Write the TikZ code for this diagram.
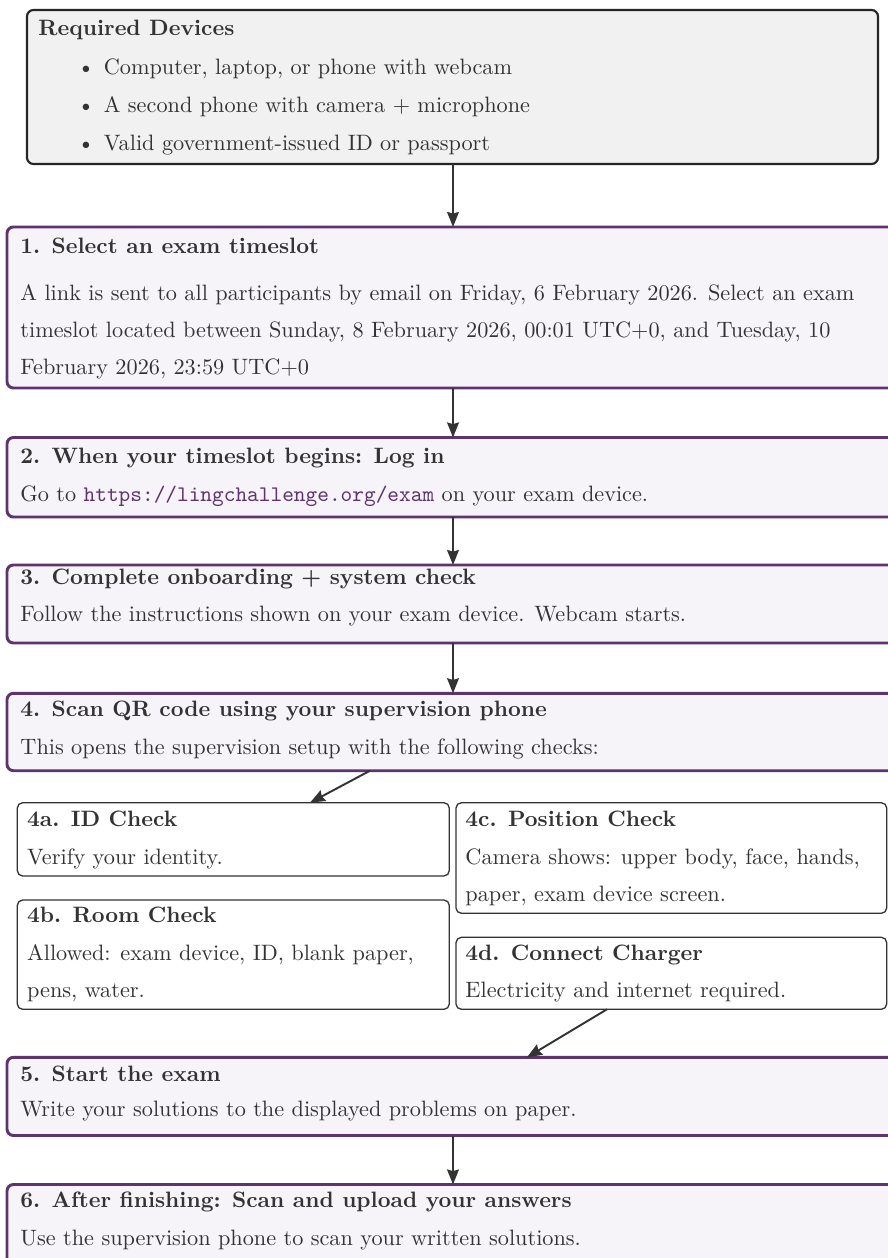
\documentclass[tikz,border=0pt]{standalone}
\usetikzlibrary{arrows.meta,fit}
\definecolor{pborder}{RGB}{94,52,110}
\definecolor{pfill}{RGB}{246,244,248}
\definecolor{gfill}{RGB}{241,241,241}
\definecolor{txt}{RGB}{51,51,51}
\begin{document}
\begin{tikzpicture}[x=0.465pt,y=-0.465pt,
  graybox/.style={draw=black!85, line width=1pt, fill=gfill, rounded corners=3pt, inner sep=0pt, outer sep=0pt},
  stepbox/.style={draw=pborder, line width=1.35pt, fill=pfill, rounded corners=3pt, inner sep=0pt, outer sep=0pt},
  subbox/.style={draw=black!80, line width=0.6pt, fill=white, rounded corners=2.5pt, inner sep=0pt, outer sep=0pt},
  tx/.style={anchor=base west, inner sep=0pt, text=txt, font=\fontsize{10.35}{12.4}\selectfont},
  ttl/.style={tx, font=\fontsize{10.35}{12.4}\selectfont\bfseries},
  bul/.style={tx},
  arr/.style={draw=txt, line width=0.9pt, -{Stealth[length=7pt,width=5.5pt,inset=0.8pt]}}
]
\clip (0,0) rectangle (888,1258);
\fill[white] (0,0) rectangle (888,1258);
\coordinate (xm) at (453,0);
\coordinate (x370) at (370,0);
\coordinate (x310) at (310,0);
\coordinate (x607) at (607,0);
\coordinate (x527) at (527,0);

% Required devices
\node[graybox, fit={(27,10) (878,164)}] (b0) {};
\node[ttl] (t0) at (38,35.7) {Required Devices};
\node[bul] (i1) at (77,74) {\makebox[12.3pt][l]{\textbullet}Computer, laptop, or phone with webcam};
\node[bul] (i2) at (77,112.3) {\makebox[12.3pt][l]{\textbullet}A second phone with camera + microphone};
\node[bul] (i3) at (77,150.6) {\makebox[12.3pt][l]{\textbullet}Valid government-issued ID or passport};

% Step 1
\node[stepbox, fit={(7,227) (900,388)}] (b1) {};
\node[ttl] (t1) at (20,253) {1. Select an exam timeslot};
\node[tx] (l1a) at (20,300) {A link is sent to all participants by email on Friday, 6 February 2026. Select an exam};
\node[tx] (l1b) at (20,337) {timeslot located between Sunday, 8 February 2026, 00:01 UTC+0, and Tuesday, 10};
\node[tx] (l1c) at (20,374) {February 2026, 23:59 UTC+0};

% Step 2
\node[stepbox, fit={(7,437.5) (900,517)}] (b2) {};
\node[ttl] (t2) at (20,463) {2. When your timeslot begins: Log in};
\node[tx] (l2) at (20,501.7) {Go to \textcolor{pborder}{\texttt{https://lingchallenge.org/exam}} on your exam device.};

% Step 3
\node[stepbox, fit={(7,565) (900,643)}] (b3) {};
\node[ttl] (t3) at (20,584) {3. Complete onboarding + system check};
\node[tx] (l3) at (20,621.7) {Follow the instructions shown on your exam device. Webcam starts.};

% Step 4
\node[stepbox, fit={(7,693.3) (900,770.7)}] (b4) {};
\node[ttl] (t4) at (20,716.7) {4. Scan QR code using your supervision phone};
\node[tx] (l4) at (20,754.3) {This opens the supervision setup with the following checks:};

% Sub checks
\node[subbox, fit={(17.3,802.7) (449.3,876)}] (b4a) {};
\node[ttl] (t4a) at (26.7,826) {4a. ID Check};
\node[tx] (l4a) at (26.7,864) {Verify your identity.};

\node[subbox, fit={(17.3,900) (449.3,1009.3)}] (b4b) {};
\node[ttl] (t4b) at (26.7,922.7) {4b. Room Check};
\node[tx] (l4b1) at (26.7,960) {Allowed: exam device, ID, blank paper,};
\node[tx] (l4b2) at (26.7,997.3) {pens, water.};

\node[subbox, fit={(456,802.7) (886.7,913.3)}] (b4c) {};
\node[ttl] (t4c) at (465,826) {4c. Position Check};
\node[tx] (l4c1) at (465,864) {Camera shows: upper body, face, hands,};
\node[tx] (l4c2) at (465,901.7) {paper, exam device screen.};

\node[subbox, fit={(456,937.3) (886.7,1009.3)}] (b4d) {};
\node[ttl] (t4d) at (465,960) {4d. Connect Charger};
\node[tx] (l4d) at (465,997.3) {Electricity and internet required.};

% Step 5
\node[stepbox, fit={(7,1057.3) (900,1135.5)}] (b5) {};
\node[ttl] (t5) at (20,1081) {5. Start the exam};
\node[tx] (l5) at (20,1116.5) {Write your solutions to the displayed problems on paper.};

% Step 6
\node[stepbox, fit={(7,1184.5) (900,1275)}] (b6) {};
\node[ttl] (t6) at (20,1207) {6. After finishing: Scan and upload your answers};
\node[tx] (l6) at (20,1245) {Use the supervision phone to scan your written solutions.};

% Connectors
\draw[arr] (b0.south -| xm) -- (b1.north -| xm);
\draw[arr] (b1.south -| xm) -- (b2.north -| xm);
\draw[arr] (b2.south -| xm) -- (b3.north -| xm);
\draw[arr] (b3.south -| xm) -- (b4.north -| xm);
\draw[arr] (b4.south -| x370) -- (b4a.north -| x310);
\draw[arr] (b4d.south -| x607) -- (b5.north -| x527);
\draw[arr] (b5.south -| xm) -- (b6.north -| xm);
\end{tikzpicture}
\end{document}
